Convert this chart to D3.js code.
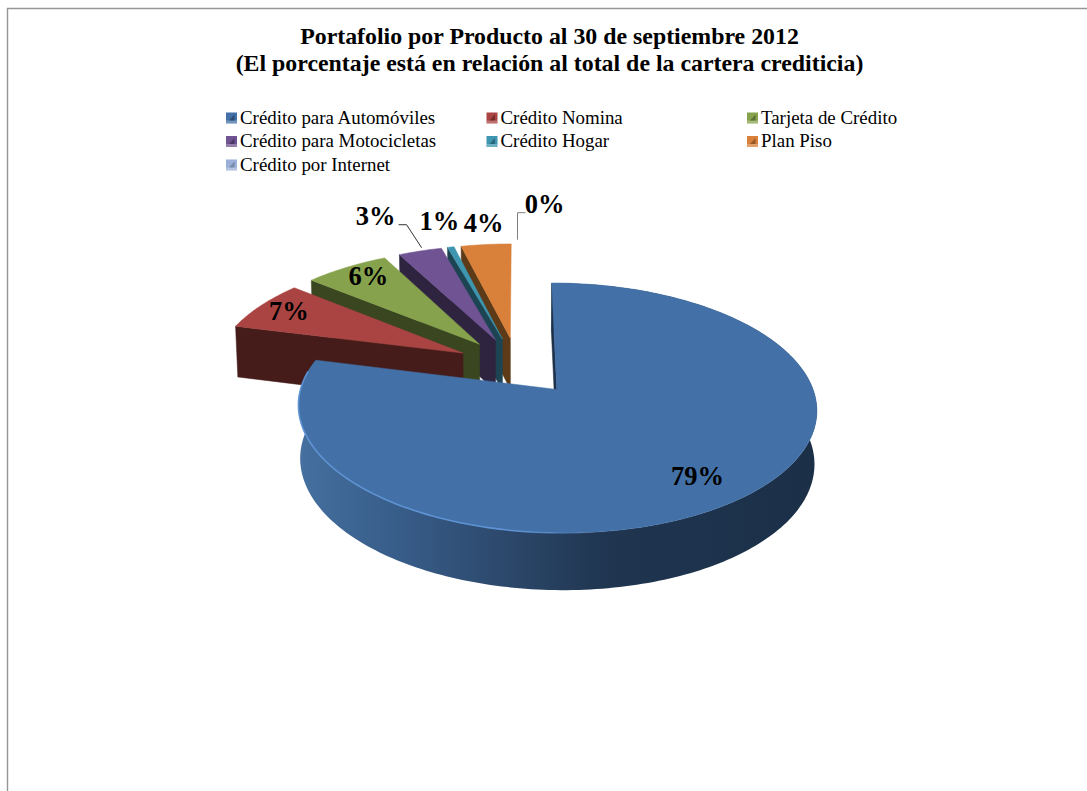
<!DOCTYPE html>
<html><head><meta charset="utf-8">
<script src="https://cdn.jsdelivr.net/npm/d3@7/dist/d3.min.js"></script>
<style>html,body{margin:0;padding:0;background:#fff;overflow:hidden}svg{display:block}text{font-family:"Liberation Serif",serif;fill:#000}</style>
</head><body>
<svg id="c" width="1087" height="791"></svg>
<script>
const categories = ["Crédito para Automóviles","Crédito Nomina","Tarjeta de Crédito","Crédito para Motocicletas","Crédito Hogar","Plan Piso","Crédito por Internet"];
const values = [79,7,6.4,3.3,0.5,3.8,0];
const titleLines = ["Portafolio por Producto al 30 de septiembre 2012","(El porcentaje está en relación al total de la cartera crediticia)"];
const topColors = ["#4371a7","#a94442","#87a24c","#705392","#3e96b0","#d9803a","#9bb0d8"];
const wallColors = ["#1c3049","#451c1a","#394620","#2e2440","#1c4453","#5d3a18","#5d6b85"];

// layout of the tilted pie
const cx=517.5, cy=366, fx=249, ky=115.4, persp=0.144, explode=0.25, depth=52, shrink=0.992;
const labelRadius=[.78,.865,.85,1.5,1.28,1.26,1.5];
const labelNudge=[[2,4],[2,0],[4,-2],[-13,3],[1,-4],[3,0],[27,0]];
const leaders={3:[[23,8],[31,8],[46,31]],6:[[-27,35],[-27,8],[-19,8]]};

const svg=d3.select("#c");
const defs=svg.append("defs");
const wallGrad=defs.append("linearGradient").attr("id","wall").attr("gradientUnits","userSpaceOnUse")
  .attr("x1",298).attr("x2",817).attr("y1",0).attr("y2",0);
[[0,"#45709f"],[.2,"#375c88"],[.42,"#2b4668"],[.6,"#1f3550"],[1,"#1b2f47"]].forEach(s=>wallGrad.append("stop").attr("offset",s[0]).attr("stop-color",s[1]));
const rimGrad=defs.append("linearGradient").attr("id","rim").attr("gradientUnits","userSpaceOnUse")
  .attr("x1",298).attr("x2",590).attr("y1",0).attr("y2",0);
[[0,"#5f95d8",.9],[.75,"#5f95d8",.9],[1,"#5f95d8",0]].forEach(s=>rimGrad.append("stop").attr("offset",s[0]).attr("stop-color",s[1]).attr("stop-opacity",s[2]));

// frame: only top and left edges are visible
svg.append("path").attr("d","M7.5 791V8.5H1087").attr("fill","none").attr("stroke","#969696").attr("stroke-width",1.4);

const title=svg.append("g");
titleLines.forEach((t,i)=>title.append("text").attr("x",549.5).attr("y",44+i*26.5).attr("text-anchor","middle")
  .attr("font-size",23.85).attr("font-weight","bold").text(t));

// legend
const colX=d3.scalePoint().domain([0,1,2]).range([225,746]);
const rowY=d3.scalePoint().domain([0,1,2]).range([118,165]);
const legend=svg.append("g").selectAll("g").data(categories).join("g")
  .attr("transform",(d,i)=>`translate(${colX(i%3)},${rowY(Math.floor(i/3))})`);
legend.append("rect").attr("x",1).attr("y",-5.5).attr("width",11).attr("height",11).attr("fill",(d,i)=>topColors[i]);
legend.append("rect").attr("x",1).attr("y",2.5).attr("width",11).attr("height",3).attr("fill","#fff").attr("opacity",.25);
legend.append("path").attr("d","M4 2.5L9.5 -3.5V2.5Z").attr("fill",(d,i)=>wallColors[i]).attr("opacity",.55);
legend.append("text").attr("x",15).attr("y",5.5).attr("font-size",18.9).text(d=>d);

// pie
const arcs=d3.pie().sort(null).startAngle(0).endAngle(2*Math.PI)(values);
const project=(u,v,z=0)=>{
  const den=1+persp*v;
  const s=z?shrink:1;
  return [cx+s*fx*u/den, cy-ky*v/den+z*depth/Math.sqrt(den)];
};
const apex=a=>{const m=(a.startAngle+a.endAngle)/2;return [explode*Math.sin(m),explode*Math.cos(m)];};
const at=(a,r,t,z)=>{const o=apex(a);return project(o[0]+r*Math.sin(t),o[1]+r*Math.cos(t),z);};
const line=d3.line();
const rimPts=(a,t0,t1,z)=>{const n=Math.max(2,Math.ceil(Math.abs(t1-t0)/0.02));
  return d3.range(n+1).map(i=>at(a,1,t0+(t1-t0)*i/n,z));};

const pieG=svg.append("g");
d3.range(arcs.length-1,-1,-1).forEach(i=>{
  const a=arcs[i];
  if(a.value===0) return;
  if(i===0){
    const top=rimPts(a,a.startAngle,a.endAngle,0), bot=rimPts(a,a.endAngle,a.startAngle,1);
    pieG.append("path").attr("d",line(top.concat(bot))+"Z").attr("fill","url(#wall)");
  }
  pieG.append("path").attr("d",line([at(a,0,0,0),at(a,1,a.startAngle,0),at(a,1,a.startAngle,1),at(a,0,0,1)])+"Z")
    .attr("fill",wallColors[i]).attr("stroke",wallColors[i]).attr("stroke-width",.5);
  pieG.append("path").attr("d",line([at(a,0,0,0)].concat(rimPts(a,a.startAngle,a.endAngle,0)))+"Z")
    .attr("fill",topColors[i]).attr("stroke",topColors[i]).attr("stroke-width",.5);
  if(i===0){
    pieG.append("path").attr("d",line(rimPts(a,Math.PI*0.98,a.endAngle-0.1,0))).attr("fill","none")
      .attr("stroke","url(#rim)").attr("stroke-width",1.6);
  }
});

// labels
arcs.forEach((a,i)=>{
  const m=(a.startAngle+a.endAngle)/2;
  const p=at(a,labelRadius[i],m,0);
  const x=p[0]+labelNudge[i][0], y=p[1]+labelNudge[i][1];
  if(leaders[i]) svg.append("path").attr("d",line(leaders[i].map(o=>[x+o[0],y+o[1]])))
    .attr("fill","none").attr("stroke",i===3?"#333":"#808080").attr("stroke-width",1);
  svg.append("text").attr("x",x).attr("y",y).attr("dy",".33em").attr("text-anchor","middle")
    .attr("font-size",26.5).attr("font-weight","bold").text(Math.round(a.value)+"%");
});
</script>
</body></html>
